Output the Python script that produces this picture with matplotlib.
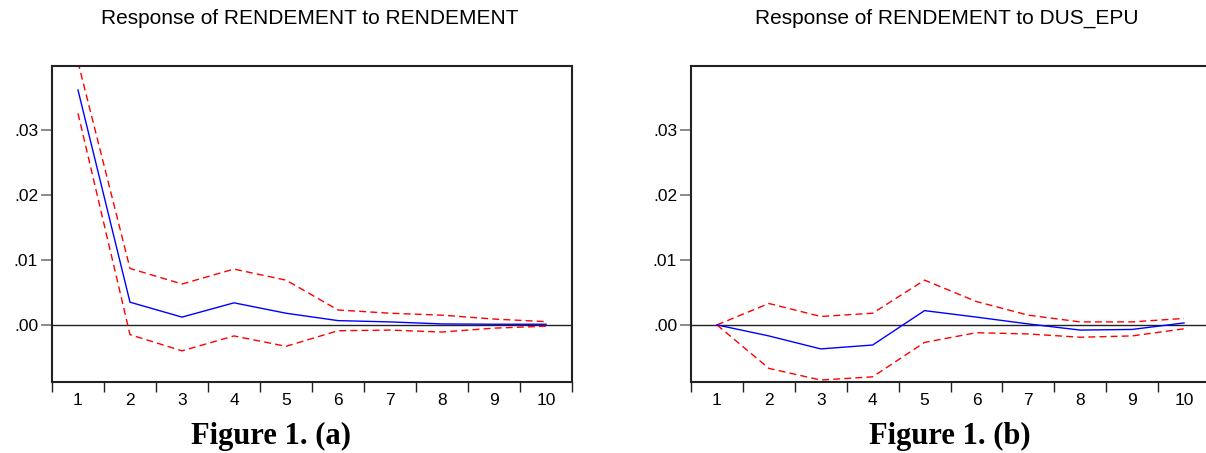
import matplotlib
matplotlib.use("Agg")
import matplotlib.pyplot as plt
import numpy as np

plt.rcParams['font.family'] = ['Liberation Sans', 'DejaVu Sans']

periods = [1, 2, 3, 4, 5, 6, 7, 8, 9, 10]
xtick_labels = ["1", "2", "3", "4", "5", "6", "7", "8", "9", "10"]
ytick_values = [0.00, 0.01, 0.02, 0.03]
ytick_labels = [".00", ".01", ".02", ".03"]

title_a = "Response of RENDEMENT to RENDEMENT"
title_b = "Response of RENDEMENT to DUS_EPU"
caption_a = "Figure 1. (a)"
caption_b = "Figure 1. (b)"

# Panel (a): response of RENDEMENT to RENDEMENT
resp_a = [0.0362, 0.0035, 0.0012, 0.0034, 0.0018, 0.00066, 0.00046, 0.00015, 0.0001, 0.0001]
upper_a = [0.0405, 0.0087, 0.0063, 0.0086, 0.0069, 0.0023, 0.0018, 0.0015, 0.0009, 0.0005]
lower_a = [0.0326, -0.0015, -0.0040, -0.0017, -0.0033, -0.0009, -0.0008, -0.0011, -0.0005, -0.0002]

# Panel (b): response of RENDEMENT to DUS_EPU
resp_b = [0.0, -0.0017, -0.0037, -0.0031, 0.0022, 0.0012, 0.00015, -0.0008, -0.0007, 0.0003]
upper_b = [0.0, 0.0033, 0.0013, 0.0018, 0.0069, 0.0036, 0.0015, 0.00046, 0.00046, 0.0010]
lower_b = [0.0, -0.0067, -0.0085, -0.0080, -0.0027, -0.0012, -0.0014, -0.0019, -0.0017, -0.0006]

W, H = 1206, 453
fig = plt.figure(figsize=(W / 100, H / 100), dpi=100)

def px_axes(left, right, top, bottom):
    return fig.add_axes([left / W, 1 - bottom / H, (right - left) / W, (bottom - top) / H])

def draw(ax, resp, upper, lower, title, caption, title_x, cap_x):
    ax.axhline(0, color='#222222', lw=1.0, zorder=1)
    ax.plot(periods, upper, color='#ff0000', lw=1.0, dashes=(5, 3), zorder=2)
    ax.plot(periods, lower, color='#ff0000', lw=1.0, dashes=(5, 3), zorder=2)
    ax.plot(periods, resp, color='#0000ff', lw=1.0, zorder=3)
    ax.set_xlim(0.5, 10.5)
    ax.set_ylim(-0.0088, 0.0399)
    ax.set_xticks(np.arange(0.5, 11.0, 1.0))
    ax.set_xticklabels([])
    ax.set_xticks(periods, minor=True)
    ax.set_xticklabels(xtick_labels, minor=True, fontsize=12.5)
    ax.tick_params(axis='x', which='major', direction='out', length=7, width=1, color='#222222')
    ax.tick_params(axis='x', which='minor', length=0, pad=8)
    ax.set_yticks(ytick_values)
    ax.set_yticklabels(ytick_labels, fontsize=12.5)
    ax.tick_params(axis='y', direction='out', length=8, width=1.2, color='#777777', pad=2)
    for s in ax.spines.values():
        s.set_linewidth(1.5)
        s.set_color('#222222')
    fig.text(title_x / W, 1 - 18 / H, title, ha='center', va='center', fontsize=15)
    fig.text(cap_x / W, 1 - 436 / H, caption, ha='center', va='center',
             fontsize=22, fontweight='bold', family=['Liberation Serif', 'DejaVu Serif'])

ax_a = px_axes(52, 572, 66, 382)
draw(ax_a, resp_a, upper_a, lower_a, title_a, caption_a, 310, 271)

ax_b = px_axes(691, 1210, 66, 382)
draw(ax_b, resp_b, upper_b, lower_b, title_b, caption_b, 947, 950)

fig.savefig("out.png", dpi=100)
